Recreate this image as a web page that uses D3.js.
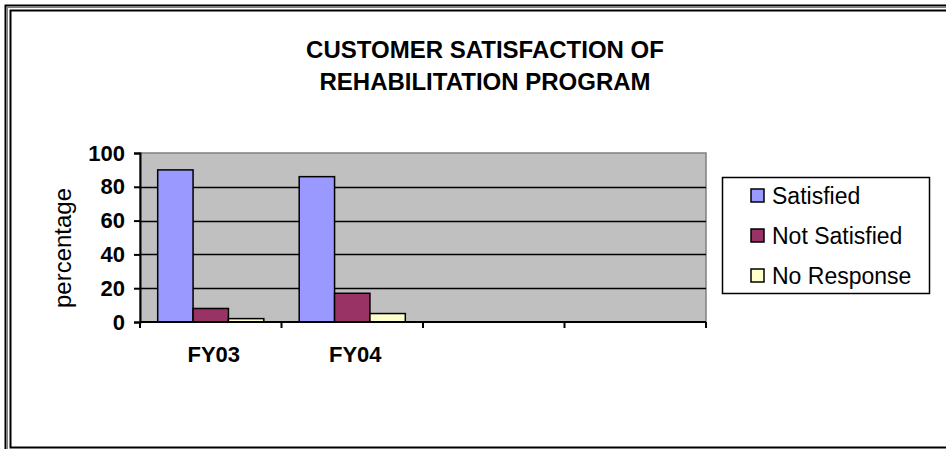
<!DOCTYPE html>
<html>
<head>
<meta charset="utf-8">
<script src="https://cdn.jsdelivr.net/npm/d3@7/dist/d3.min.js"></script>
<style>
  html, body { margin: 0; padding: 0; background: #fff; }
  svg { display: block; font-family: Arial, "Liberation Sans", sans-serif; }
</style>
</head>
<body>
<svg id="chart" width="946" height="449"></svg>
<script>
// ---- data ----
const categories = ["FY03", "FY04", "", ""];
const seriesNames = ["Satisfied", "Not Satisfied", "No Response"];
const satisfied = [90, 86, null, null];
const notSatisfied = [8, 17, null, null];
const noResponse = [2, 5, null, null];
const yTicks = [0, 20, 40, 60, 80, 100];
const titleLines = ["CUSTOMER SATISFACTION OF", "REHABILITATION PROGRAM"];
const yTitle = "percentage";
const colors = ["#9999FF", "#993366", "#FFFFCC"];

const seriesValues = [satisfied, notSatisfied, noResponse];

const svg = d3.select("#chart");
const W = 946, H = 449;
const plot = { left: 140, right: 706, top: 153, bottom: 322 };

// ---- frame (double border) ----
svg.append("rect").attr("x", 5.5).attr("y", 5.5).attr("width", W + 20).attr("height", H + 20)
  .attr("fill", "none").attr("stroke", "#000").attr("stroke-width", 2);
svg.append("rect").attr("x", 7.5).attr("y", 7.5).attr("width", W + 20).attr("height", H + 20)
  .attr("fill", "none").attr("stroke", "#808080").attr("stroke-width", 1);
svg.append("rect").attr("x", 10.5).attr("y", 10.5).attr("width", W + 20).attr("height", 437)
  .attr("fill", "none").attr("stroke", "#000").attr("stroke-width", 2);

// ---- scales ----
const x = d3.scaleBand().domain(d3.range(categories.length)).range([plot.left, plot.right]).padding(0);
const xInner = d3.scaleBand().domain(seriesNames).range([0, x.bandwidth()]).paddingInner(0).paddingOuter(0.5);
const y = d3.scaleLinear().domain([0, 100]).range([plot.bottom, plot.top]);

// ---- plot area ----
svg.append("rect").attr("x", plot.left).attr("y", plot.top)
  .attr("width", plot.right - plot.left).attr("height", plot.bottom - plot.top)
  .attr("fill", "#C0C0C0").attr("stroke", "#808080").attr("stroke-width", 1.5);

// gridlines
svg.append("g").selectAll("line").data(yTicks.filter(t => t > 0 && t < 100)).join("line")
  .attr("x1", plot.left).attr("x2", plot.right)
  .attr("y1", d => Math.round(y(d)) + 0.5).attr("y2", d => Math.round(y(d)) + 0.5)
  .attr("stroke", "#000").attr("stroke-width", 1.5);

// ---- bars ----
const barData = [];
categories.forEach((c, i) => {
  seriesNames.forEach((s, j) => {
    const v = seriesValues[j][i];
    if (v != null) barData.push({ i, s, j, v });
  });
});
svg.append("g").selectAll("rect").data(barData).join("rect")
  .attr("x", d => x(d.i) + xInner(d.s))
  .attr("y", d => y(d.v))
  .attr("width", xInner.bandwidth())
  .attr("height", d => y(0) - y(d.v))
  .attr("fill", d => colors[d.j])
  .attr("stroke", "#000").attr("stroke-width", 1.5);

// ---- y axis ----
const yAxis = d3.axisLeft(y).tickValues(yTicks).tickSize(6).tickPadding(9);
const gy = svg.append("g").attr("transform", `translate(${plot.left},0)`).call(yAxis);
gy.select(".domain").attr("stroke", "#000").attr("stroke-width", 2);
gy.selectAll(".tick line").attr("stroke", "#000").attr("stroke-width", 2);
gy.selectAll(".tick text").attr("font-size", 22).attr("font-weight", "bold")
  .attr("font-family", "Arial, 'Liberation Sans', sans-serif").attr("fill", "#000");

// ---- x axis ----
const boundaries = d3.range(categories.length + 1).map(i => i < categories.length ? x(i) : plot.right);
svg.append("line").attr("x1", plot.left).attr("x2", plot.right)
  .attr("y1", plot.bottom).attr("y2", plot.bottom).attr("stroke", "#000").attr("stroke-width", 2);
svg.append("g").selectAll("line").data(boundaries).join("line")
  .attr("x1", d => d).attr("x2", d => d)
  .attr("y1", plot.bottom).attr("y2", plot.bottom + 6)
  .attr("stroke", "#000").attr("stroke-width", 2);
svg.append("g").selectAll("text").data(categories).join("text")
  .attr("x", (d, i) => x(i) + x.bandwidth() / 2 + 3)
  .attr("y", 362)
  .attr("text-anchor", "middle")
  .attr("font-size", 22).attr("font-weight", "bold")
  .text(d => d);

// ---- axis title ----
svg.append("text")
  .attr("transform", `translate(71,248) rotate(-90)`)
  .attr("text-anchor", "middle")
  .attr("font-size", 24)
  .text(yTitle);

// ---- chart title ----
svg.append("g").selectAll("text").data(titleLines).join("text")
  .attr("x", 485).attr("y", (d, i) => 58 + i * 32)
  .attr("text-anchor", "middle")
  .attr("font-size", 24).attr("font-weight", "bold")
  .text(d => d);

// ---- legend ----
const lg = svg.append("g");
lg.append("rect").attr("x", 722.5).attr("y", 177.5).attr("width", 207).attr("height", 116)
  .attr("fill", "#fff").attr("stroke", "#000").attr("stroke-width", 1.5);
const li = lg.selectAll("g.item").data(seriesNames).join("g").attr("class", "item")
  .attr("transform", (d, i) => `translate(751,${196 + i * 40})`);
li.append("rect").attr("x", 0).attr("y", -7).attr("width", 13).attr("height", 13)
  .attr("fill", (d, i) => colors[i]).attr("stroke", "#000").attr("stroke-width", 1.5);
li.append("text").attr("x", 21).attr("y", 8).attr("font-size", 23).text(d => d);
</script>
</body>
</html>
